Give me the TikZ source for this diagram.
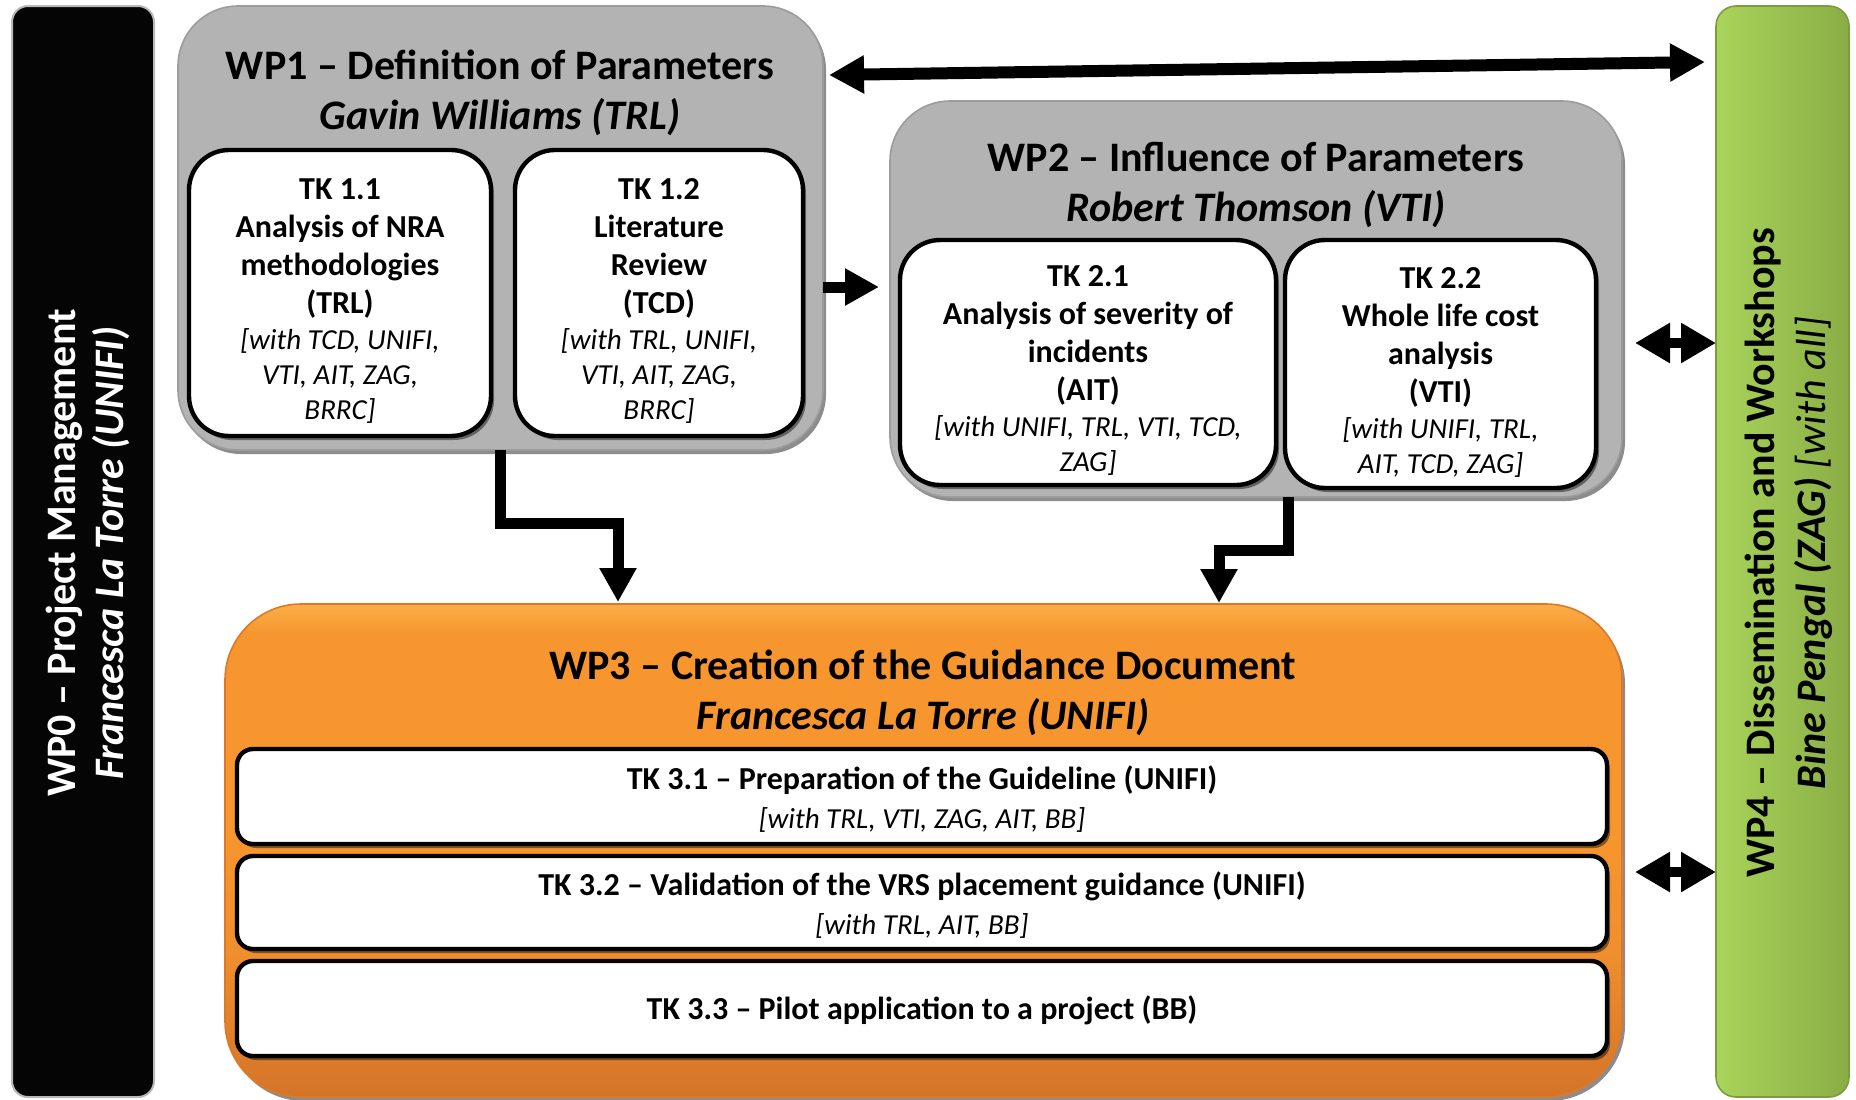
\documentclass[tikz,border=0pt]{standalone}
\usepackage{fontspec}
\setmainfont{Carlito}
\usetikzlibrary{arrows.meta,shadows,calc}
\definecolor{wpg}{HTML}{B3B3B3}
\definecolor{wpgd}{HTML}{9C9C9C}
\definecolor{orT}{HTML}{FAAE48}
\definecolor{orM}{HTML}{F7962E}
\definecolor{orB}{HTML}{D47428}
\definecolor{grL}{HTML}{A9D45A}
\definecolor{grR}{HTML}{8AAD45}
\pgfdeclareverticalshading{orsh}{100bp}{color(0bp)=(orB); color(25bp)=(orB); color(40bp)=(orM!80!orB); color(52bp)=(orM); color(72bp)=(orM); color(75bp)=(orT); color(100bp)=(orT)}
\newcommand\withtxt[1]{{\fontsize{14.5}{17}\selectfont\mdseries\itshape #1}}
\begin{document}
\begin{tikzpicture}[x=0.5pt,y=-0.5pt,
  box/.style={inner sep=0pt, outer sep=0pt},
  shad/.style={drop shadow={shadow xshift=1.5pt,shadow yshift=-2pt,opacity=0.45,fill=black}},
  wpgray/.style={box, shad, fill=wpg, draw=wpgd, line width=0.8pt, rounded corners=30pt},
  tkbox/.style={box, shad, fill=white, draw=black, line width=2.2pt, rounded corners=20pt},
  tktext/.style={box, align=center, font=\fontsize{16}{19}\selectfont\bfseries},
  tkrow/.style={box, shad, fill=white, draw=black, line width=2.2pt, rounded corners=8pt},
  rowtext/.style={box, align=center, font=\fontsize{16}{19.5}\selectfont\bfseries},
  title/.style={box, align=center, font=\fontsize{21}{25}\selectfont\bfseries},
  arr/.style={line width=5.5pt, line join=miter, -{Triangle[length=17pt,width=17.5pt]}},
  toparr/.style={line width=6pt, {Triangle[length=17.5pt,width=18pt]}-{Triangle[length=17.5pt,width=18pt]}},
  dbl/.style={line width=5pt, {Triangle[length=17.5pt,width=19pt]}-{Triangle[length=17.5pt,width=19pt]}}
]
\useasboundingbox (0,0) rectangle (1856,1099);

% WP0
\node[box, fill=black!98, draw=gray!55, line width=1pt, rounded corners=8pt,
      minimum width=71pt, minimum height=545.5pt] (wp0) at (83,551.5) {};
\node[title, text=white, rotate=90, font=\fontsize{21}{24}\selectfont\bfseries] (wp0t) at (88,553)
  {WP0 – Project Management\\\itshape Francesca La Torre (UNIFI)};

% WP4
\node[box, left color=grL, right color=grR, draw=grR!90!black, line width=0.8pt, rounded corners=10pt,
      minimum width=66.5pt, minimum height=545.5pt] (wp4) at (1782.5,551.5) {};
\node[title, rotate=90, font=\fontsize{21}{25.5}\selectfont\bfseries] (wp4t) at (1789,553)
  {WP4 – Dissemination and Workshops\\\itshape Bine Pengal (ZAG) {\mdseries[with all]}};

% WP1
\node[wpgray, minimum width=322.5pt, minimum height=222pt] (wp1) at (500.5,228) {};
\node[title] (wp1t) at (500,93) {WP1 – Definition of Parameters\\\itshape Gavin Williams (TRL)};
\node[tkbox, minimum width=151pt, minimum height=143pt] (tk11) at (340,293) {};
\node[tktext] (tk11t) at ([yshift=-4pt]tk11.center)
  {TK 1.1\\Analysis of NRA\\methodologies\\(TRL)\\[-1pt]\withtxt{[with TCD, UNIFI,}\\[-1.5pt]\withtxt{VTI, AIT, ZAG,}\\[-1.5pt]\withtxt{BRRC]}};
\node[tkbox, minimum width=144pt, minimum height=143pt] (tk12) at (659,293) {};
\node[tktext] (tk12t) at ([yshift=-4pt]tk12.center)
  {TK 1.2\\Literature\\Review\\(TCD)\\[-1pt]\withtxt{[with TRL, UNIFI,}\\[-1.5pt]\withtxt{VTI, AIT, ZAG,}\\[-1.5pt]\withtxt{BRRC]}};

% WP2
\node[wpgray, minimum width=366pt, minimum height=198pt] (wp2) at (1256,299) {};
\node[title] (wp2t) at (1256,185) {WP2 – Influence of Parameters\\\itshape Robert Thomson (VTI)};
\node[tkbox, minimum width=188pt, minimum height=122.5pt] (tk21) at (1088,362.5) {};
\node[tktext] (tk21t) at ([yshift=-4pt]tk21.center)
  {TK 2.1\\Analysis of severity of\\incidents\\(AIT)\\[-1pt]\withtxt{[with UNIFI, TRL, VTI, TCD,}\\[-1.5pt]\withtxt{ZAG]}};
\node[tkbox, minimum width=155.5pt, minimum height=124pt] (tk22) at (1440.5,364) {};
\node[tktext] (tk22t) at ([yshift=-4pt]tk22.center)
  {TK 2.2\\Whole life cost\\analysis\\(VTI)\\[-1pt]\withtxt{[with UNIFI, TRL,}\\[-1.5pt]\withtxt{AIT, TCD, ZAG]}};

% WP3
\node[box, shad, shading=orsh, draw=orB!80!orM, line width=0.8pt, rounded corners=38pt,
      minimum width=698.5pt, minimum height=246.5pt] (wp3) at (923.5,850.5) {};
\node[title] (wp3t) at (923,693) {WP3 – Creation of the Guidance Document\\\itshape Francesca La Torre (UNIFI)};
\node[tkrow, minimum width=685pt, minimum height=47.5pt] (tk31) at (922,796.5) {};
\node[rowtext] (tk31t) at ([yshift=-1.5pt]tk31.center)
  {TK 3.1 – Preparation of the Guideline (UNIFI)\\\withtxt{[with TRL, VTI, ZAG, AIT, BB]}};
\node[tkrow, minimum width=685pt, minimum height=46.5pt] (tk32) at (922,902.5) {};
\node[rowtext] (tk32t) at ([yshift=-1.5pt]tk32.center)
  {TK 3.2 – Validation of the VRS placement guidance (UNIFI)\\\withtxt{[with TRL, AIT, BB]}};
\node[tkrow, minimum width=685pt, minimum height=47.5pt] (tk33) at (922,1008.5) {};
\node[rowtext] (tk33t) at ([yshift=-1pt]tk33.center)
  {TK 3.3 – Pilot application to a project (BB)};

% connectors
\draw[toparr] ([xshift=3pt]wp1.east |- 0,75) -- ([xshift=-5.5pt]wp4.west |- 0,62);
\draw[arr] (wp1.east |- 0,287) -- ([xshift=-5.5pt]wp2.west |- 0,287);
\draw[arr] (wp1.south) |- (618,523) -- ([yshift=1pt]wp3.north -| 618,0);
\draw[arr] (wp2.south -| 1288,0) |- (1219,550) -- ([yshift=0.5pt]wp3.north -| 1219,0);
\draw[dbl] ([xshift=6.5pt]wp2.east |- 0,343) -- (wp4.west |- 0,343);
\draw[dbl] ([xshift=6.5pt]wp3.east |- 0,872) -- (wp4.west |- 0,872);
\end{tikzpicture}
\end{document}
